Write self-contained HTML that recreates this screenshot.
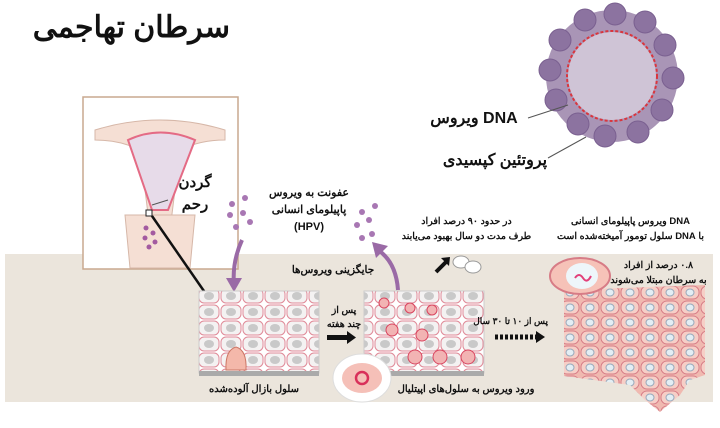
<!DOCTYPE html>
<html><head><meta charset="utf-8"><style>
body{margin:0;width:720px;height:428px;background:#fff;overflow:hidden;position:relative;font-family:"Liberation Sans","Noto Sans CJK SC",sans-serif}
.t{position:absolute;direction:rtl;font-weight:bold;color:#111;white-space:nowrap;text-align:center}
</style></head><body>
<svg width="720" height="428" style="position:absolute;left:0;top:0">
<defs>
<pattern id="cells" width="22" height="16" patternUnits="userSpaceOnUse">
<rect width="22" height="16" fill="#fff"/><rect x="1" y="1" width="20" height="14" rx="5" fill="#f4f2f2" stroke="#e08a98" stroke-width="1"/><ellipse cx="11" cy="8" rx="5" ry="4" fill="#c9c9c9"/></pattern>
<pattern id="tum" width="20" height="15" patternUnits="userSpaceOnUse">
<rect width="20" height="15" fill="#f0b9b0"/><rect x="1" y="1" width="18" height="13" rx="6" fill="#f6cfc7" stroke="#d77c86"/><ellipse cx="10" cy="7.5" rx="4" ry="3.5" fill="#e3eef4" stroke="#9ab"/></pattern>
</defs>
<rect x="5" y="254" width="708" height="148" fill="#ebe5dc"/>
<!-- virus -->
<circle cx="612" cy="76" r="66" fill="#a995b6"/>
<circle cx="612" cy="76" r="44" fill="#cfc4d6"/>
<g fill="#8c73a0" stroke="#7a6090">
<circle cx="560" cy="40" r="11"/><circle cx="585" cy="20" r="11"/><circle cx="615" cy="14" r="11"/><circle cx="645" cy="22" r="11"/><circle cx="665" cy="45" r="11"/><circle cx="673" cy="78" r="11"/><circle cx="662" cy="110" r="11"/><circle cx="638" cy="132" r="11"/><circle cx="605" cy="136" r="11"/><circle cx="578" cy="124" r="11"/><circle cx="556" cy="100" r="11"/><circle cx="550" cy="70" r="11"/></g>
<circle cx="612" cy="76" r="45" fill="none" stroke="#d9363e" stroke-width="2" stroke-dasharray="3 2"/>
<line x1="528" y1="118" x2="568" y2="105" stroke="#555"/>
<line x1="548" y1="158" x2="586" y2="137" stroke="#555"/>
<!-- uterus box -->
<rect x="83" y="97" width="155" height="172" fill="#fff" stroke="#c9a98f" stroke-width="1.5"/>
<path d="M95 130 Q160 110 225 130 L225 140 Q200 140 180 150 L170 230 L150 230 L140 150 Q120 140 95 140Z" fill="#f5dfd4" stroke="#d6b7a8"/>
<path d="M128 140 Q160 125 195 140 L168 210 L152 210Z" fill="#e7dbe9" stroke="#e46b85" stroke-width="2"/>
<path d="M125 215 L195 215 L190 268 L130 268Z" fill="#f5dfd4" stroke="#d6b7a8"/>
<g fill="#a35aa0"><circle cx="146" cy="228" r="2.5"/><circle cx="153" cy="233" r="2.5"/><circle cx="145" cy="238" r="2.5"/><circle cx="155" cy="242" r="2.5"/><circle cx="149" cy="247" r="2.5"/></g>
<rect x="146" y="210" width="6" height="6" fill="#fff" stroke="#222"/>
<line x1="168" y1="200" x2="152" y2="205" stroke="#555"/>
<line x1="152" y1="216" x2="206" y2="294" stroke="#111" stroke-width="2.5"/>
<!-- HPV dots -->
<g fill="#a877b3"><circle cx="232" cy="204" r="3"/><circle cx="245" cy="198" r="3"/><circle cx="230" cy="215" r="3"/><circle cx="243" cy="213" r="3"/><circle cx="236" cy="227" r="3"/><circle cx="250" cy="222" r="3"/>
<circle cx="362" cy="212" r="3"/><circle cx="375" cy="206" r="3"/><circle cx="369" cy="220" r="3"/><circle cx="357" cy="225" r="3"/><circle cx="372" cy="234" r="3"/><circle cx="362" cy="238" r="3"/></g>
<path d="M242 240 Q232 262 234 285" fill="none" stroke="#9a6aa6" stroke-width="4"/>
<path d="M226 278 L234 292 L242 278Z" fill="#9a6aa6"/>
<path d="M398 290 Q396 262 378 250" fill="none" stroke="#9a6aa6" stroke-width="4"/>
<path d="M372 242 L388 246 L376 258Z" fill="#9a6aa6"/>
<!-- tissue blocks -->
<rect x="199" y="291" width="120" height="82" fill="url(#cells)" stroke="#ccc"/>
<rect x="199" y="371" width="120" height="5" fill="#aaa"/>
<rect x="364" y="291" width="120" height="82" fill="url(#cells)" stroke="#ccc"/>
<rect x="364" y="371" width="120" height="5" fill="#aaa"/>
<g fill="#f2b3b3" stroke="#d9455f"><circle cx="384" cy="303" r="5"/><circle cx="410" cy="308" r="5"/><circle cx="432" cy="310" r="5"/><circle cx="392" cy="330" r="6"/><circle cx="422" cy="335" r="6"/><circle cx="440" cy="357" r="7"/><circle cx="415" cy="357" r="7"/><circle cx="468" cy="357" r="7"/></g>
<path d="M226 370 Q225 350 236 347 Q247 350 246 370Z" fill="#f4b8aa" stroke="#c76"/>
<!-- tumor -->
<path d="M564 290 L705 285 L705 375 L690 380 L680 395 L660 412 L645 400 L630 385 L564 376Z" fill="url(#tum)"/>
<ellipse cx="580" cy="276" rx="30" ry="18" fill="#f6c2b8" stroke="#d77c86" stroke-width="2"/>
<ellipse cx="582" cy="276" rx="16" ry="13" fill="#eef6fa"/>
<path d="M575 278 q4 -6 8 0 q4 6 8 -2" stroke="#e2407a" stroke-width="2" fill="none"/>
<!-- epithelial cell inset -->
<ellipse cx="362" cy="378" rx="29" ry="24" fill="#fff" stroke="#ddd"/>
<ellipse cx="362" cy="378" rx="20" ry="15" fill="#f5c0b8"/>
<circle cx="362" cy="378" r="6" fill="none" stroke="#d9305a" stroke-width="2.5"/>
<!-- arrows -->
<rect x="327" y="335" width="20" height="5" fill="#111"/><path d="M347 331 L356 337.5 L347 344Z" fill="#111"/>
<line x1="495" y1="337" x2="536" y2="337" stroke="#111" stroke-width="5" stroke-dasharray="3 2"/><path d="M536 331 L545 337 L536 343Z" fill="#111"/>
<path d="M436 272 L446 262" stroke="#111" stroke-width="4"/><path d="M441 258 L450 257 L449 266Z" fill="#111"/>
<ellipse cx="461" cy="262" rx="8" ry="6" fill="#fff" stroke="#999"/><ellipse cx="473" cy="267" rx="8" ry="6" fill="#fff" stroke="#999"/>
</svg>
<div class="t" style="left:40px;top:10px;font-size:30px;width:190px">سرطان تهاجمی</div>
<div class="t" style="left:420px;top:108px;font-size:16px;width:108px">DNA ویروس</div>
<div class="t" style="left:440px;top:150px;font-size:16px;width:110px">پروتئین کپسیدی</div>
<div class="t" style="left:172px;top:172px;font-size:15px;line-height:22px;width:46px">گردن<br>رحم</div>
<div class="t" style="left:262px;top:185px;font-size:11px;line-height:17px;width:94px">عفونت به ویروس<br>پاپیلومای انسانی<br>(HPV)</div>
<div class="t" style="left:399px;top:214px;font-size:9.5px;line-height:15px;width:135px">در حدود ۹۰ درصد افراد<br>طرف مدت دو سال بهبود می‌یابند</div>
<div class="t" style="left:549px;top:214px;font-size:9.5px;line-height:15px;width:163px">DNA ویروس پاپیلومای انسانی<br>با DNA سلول تومور آمیخته‌شده است</div>
<div class="t" style="left:610px;top:258px;font-size:9.5px;line-height:15px;width:97px">۰.۸ درصد از افراد<br>به سرطان مبتلا می‌شوند</div>
<div class="t" style="left:288px;top:264px;font-size:10.5px;width:90px">جایگزینی ویروس‌ها</div>
<div class="t" style="left:324px;top:304px;font-size:9.5px;line-height:14px;width:40px">پس از<br>چند هفته</div>
<div class="t" style="left:484px;top:316px;font-size:9px;width:64px">پس از ۱۰ تا ۳۰ سال</div>
<div class="t" style="left:204px;top:384px;font-size:10px;width:100px">سلول بازال آلوده‌شده</div>
<div class="t" style="left:396px;top:384px;font-size:10px;width:140px">ورود ویروس به سلول‌های اپیتلیال</div>
</body></html>
